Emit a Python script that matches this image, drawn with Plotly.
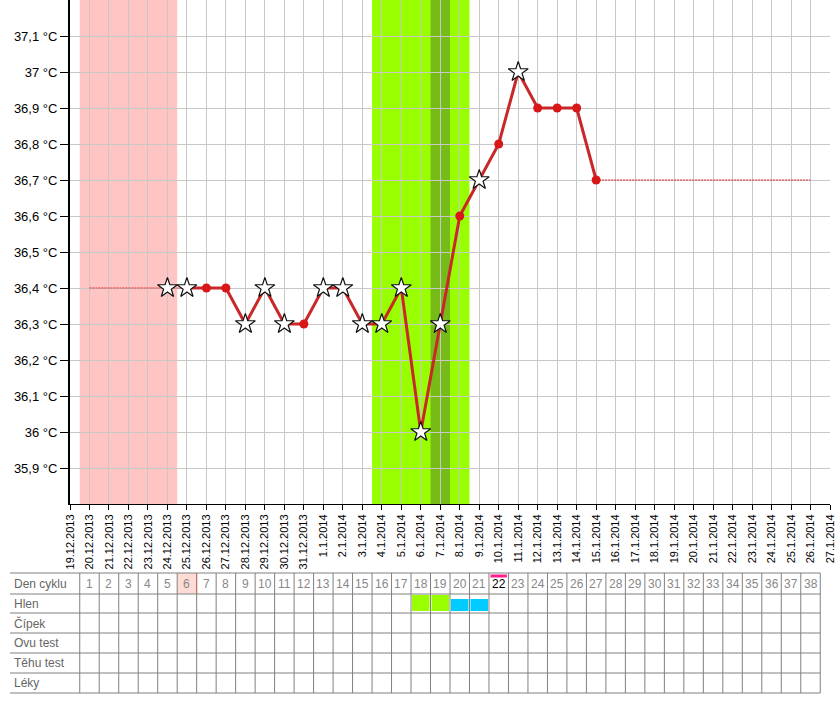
import plotly.graph_objects as go

# ---------------- data ----------------
date_labels = [
    "19.12.2013", "20.12.2013", "21.12.2013", "22.12.2013", "23.12.2013",
    "24.12.2013", "25.12.2013", "26.12.2013", "27.12.2013", "28.12.2013",
    "29.12.2013", "30.12.2013", "31.12.2013", "1.1.2014", "2.1.2014",
    "3.1.2014", "4.1.2014", "5.1.2014", "6.1.2014", "7.1.2014",
    "8.1.2014", "9.1.2014", "10.1.2014", "11.1.2014", "12.1.2014",
    "13.1.2014", "14.1.2014", "15.1.2014", "16.1.2014", "17.1.2014",
    "18.1.2014", "19.1.2014", "20.1.2014", "21.1.2014", "22.1.2014",
    "23.1.2014", "24.1.2014", "25.1.2014", "26.1.2014", "27.1.2014",
]
day_index = list(range(len(date_labels)))          # 0 = 19.12.2013, cycle day n = index n

measure_days = list(range(5, 28))
temps = [36.4, 36.4, 36.4, 36.4, 36.3, 36.4, 36.3, 36.3, 36.4, 36.4, 36.3, 36.3,
         36.4, 36.0, 36.3, 36.6, 36.7, 36.8, 37.0, 36.9, 36.9, 36.9, 36.7]
disturbed_days = [5, 6, 9, 10, 11, 13, 14, 15, 16, 17, 18, 19, 21, 23]
line_start_day = 6

fill_before_days = [1, 2, 3, 4, 5, 6]
fill_before_temps = [36.4, 36.4, 36.4, 36.4, 36.4, 36.4]
fill_after_days = [27, 28, 29, 30, 31, 32, 33, 34, 35, 36, 37, 38]
fill_after_temps = [36.7] * 12

y_ticks = [35.9, 36.0, 36.1, 36.2, 36.3, 36.4, 36.5, 36.6, 36.7, 36.8, 36.9, 37.0, 37.1]
y_ticktext = ["35,9 °C", "36 °C", "36,1 °C", "36,2 °C", "36,3 °C", "36,4 °C", "36,5 °C",
              "36,6 °C", "36,7 °C", "36,8 °C", "36,9 °C", "37 °C", "37,1 °C"]

menstruation_days = [1, 2, 3, 4, 5]
fertile_days = [16, 17, 18, 19, 20]
ovulation_day = 19

cycle_days = list(range(1, 39))
table_rows = ["Den cyklu", "Hlen", "Čípek", "Ovu test", "Těhu test", "Léky"]
hlen_days = [18, 19, 20, 21]
hlen_kinds = ["green", "green", "blue", "blue"]
highlight_day = 6
today_day = 22

# ---------------- layout constants ----------------
W, H = 840, 720
ML, MR, MT, MB = 70, 10, 0, 216
PLOT_H = H - MT - MB
PLOT_W = W - ML - MR


def py(Y):
    return (PLOT_H - (Y - MT)) / PLOT_H


def px(X):
    return (X - ML) / PLOT_W


FONT = "Liberation Sans, Arial, sans-serif"

fig = go.Figure()

# dotted estimates
for dx, dy in ((fill_before_days, fill_before_temps), (fill_after_days, fill_after_temps)):
    fig.add_trace(go.Scatter(x=dx, y=dy, mode="lines",
                             line=dict(color="#e02020", width=1, dash="2px,1px"),
                             hoverinfo="skip", showlegend=False))

# solid line
lx = [d for d in measure_days if d >= line_start_day]
ly = [t for d, t in zip(measure_days, temps) if d >= line_start_day]
fig.add_trace(go.Scatter(x=lx, y=ly, mode="lines",
                         line=dict(color="#c8282a", width=3),
                         showlegend=False))

# normal points
nx = [d for d in measure_days if d not in disturbed_days]
ny = [t for d, t in zip(measure_days, temps) if d not in disturbed_days]
fig.add_trace(go.Scatter(x=nx, y=ny, mode="markers",
                         marker=dict(symbol="circle", size=9, color="#d81818",
                                     line=dict(width=0)),
                         showlegend=False))
# disturbed points (stars)
sx = [d for d in measure_days if d in disturbed_days]
sy = [t for d, t in zip(measure_days, temps) if d in disturbed_days]
fig.add_trace(go.Scatter(x=sx, y=sy, mode="markers",
                         marker=dict(symbol="star", size=15, color="white",
                                     line=dict(width=1.2, color="#111111")),
                         showlegend=False))

shapes = []
# menstruation band
shapes.append(dict(type="rect", xref="x", yref="paper",
                   x0=min(menstruation_days) - 0.5, x1=max(menstruation_days) + 0.5,
                   y0=0, y1=1, fillcolor="#ffc4c4", line=dict(width=0), layer="below"))
# fertile band
shapes.append(dict(type="rect", xref="x", yref="paper",
                   x0=min(fertile_days) - 0.5, x1=max(fertile_days) + 0.5,
                   y0=0, y1=1, fillcolor="#99ff00", line=dict(width=0), layer="below"))
shapes.append(dict(type="rect", xref="x", yref="paper",
                   x0=ovulation_day - 0.5, x1=ovulation_day + 0.5,
                   y0=0, y1=1, fillcolor="#77bb18", line=dict(width=0), layer="below"))

# ---------------- table ----------------
row_edges = [573, 594, 613, 633, 653, 673, 693]
TABLE_LEFT = 10
grid_col = "#808080"
last_edge = max(cycle_days) + 0.5

# highlighted header cell
shapes.append(dict(type="rect", xref="x", yref="paper",
                   x0=highlight_day - 0.5, x1=highlight_day + 0.5,
                   y0=py(row_edges[1]), y1=py(row_edges[0]),
                   fillcolor="#fddcd6", line=dict(width=0)))
# hlen cells
for d, k in zip(hlen_days, hlen_kinds):
    if k == "green":
        shapes.append(dict(type="rect", xref="x", yref="paper",
                           x0=d - 0.45, x1=d + 0.45,
                           y0=py(row_edges[2] - 2), y1=py(row_edges[1] + 1),
                           fillcolor="#99ff00", line=dict(width=0)))
    else:
        shapes.append(dict(type="rect", xref="x", yref="paper",
                           x0=d - 0.45, x1=d + 0.45,
                           y0=py(row_edges[2] - 2), y1=py(row_edges[1] + 5),
                           fillcolor="#00ccff", line=dict(width=0)))
# today marker bar
shapes.append(dict(type="rect", xref="x", yref="paper",
                   x0=today_day - 0.42, x1=today_day + 0.42,
                   y0=py(row_edges[0] + 4.5), y1=py(row_edges[0] + 1.5),
                   fillcolor="#ff1f8f", line=dict(width=0)))

# horizontal lines
for ye in row_edges:
    shapes.append(dict(type="line", xref="paper", yref="paper",
                       x0=px(TABLE_LEFT), x1=last_edge / (len(date_labels) - 1),
                       y0=py(ye), y1=py(ye), line=dict(color=grid_col, width=1)))
# vertical lines
for d in [0] + cycle_days:
    shapes.append(dict(type="line", xref="x", yref="paper",
                       x0=d + 0.5, x1=d + 0.5,
                       y0=py(row_edges[-1]), y1=py(row_edges[0]),
                       line=dict(color=grid_col, width=1)))
# highlight cell right border
shapes.append(dict(type="line", xref="x", yref="paper",
                   x0=highlight_day + 0.5, x1=highlight_day + 0.5,
                   y0=py(row_edges[1]), y1=py(row_edges[0]),
                   line=dict(color="#c87060", width=1)))

annotations = []
for i, name in enumerate(table_rows):
    yc = (row_edges[i] + row_edges[i + 1]) / 2
    annotations.append(dict(text=name, xref="paper", yref="paper",
                            x=px(TABLE_LEFT + 2), y=py(yc), xanchor="left", yanchor="middle",
                            showarrow=False, font=dict(family=FONT, size=12, color="#666666")))
yc0 = (row_edges[0] + row_edges[1]) / 2
for d in cycle_days:
    annotations.append(dict(text=str(d), xref="x", yref="paper",
                            x=d, y=py(yc0 + 0.5), xanchor="center", yanchor="middle",
                            showarrow=False,
                            font=dict(family=FONT, size=12,
                                      color="#000000" if d == today_day else "#888888")))

fig.update_layout(
    width=W, height=H,
    margin=dict(l=ML, r=MR, t=MT, b=MB, autoexpand=False),
    paper_bgcolor="white", plot_bgcolor="white",
    shapes=shapes, annotations=annotations,
    showlegend=False,
    xaxis=dict(range=[0, len(date_labels) - 1], tickmode="array", tickvals=day_index,
               ticktext=date_labels, tickangle=-90,
               tickfont=dict(family=FONT, size=11, color="#000000"),
               showgrid=True, gridcolor="#c8c8c8", gridwidth=1,
               showline=True, linecolor="#000000", linewidth=1,
               ticks="outside", ticklen=5, tickcolor="#000000",
               zeroline=False, fixedrange=True),
    yaxis=dict(range=[35.8, 37.2], tickmode="array", tickvals=y_ticks, ticktext=y_ticktext,
               tickfont=dict(family=FONT, size=13, color="#000000"),
               showgrid=True, gridcolor="#c8c8c8", gridwidth=1,
               showline=True, linecolor="#000000", linewidth=2,
               ticks="outside", ticklen=8, tickcolor="#000000",
               zeroline=False, fixedrange=True),
)

fig.write_html("out.html", config={"displayModeBar": False},
               post_script="document.body.style.margin='0';")
